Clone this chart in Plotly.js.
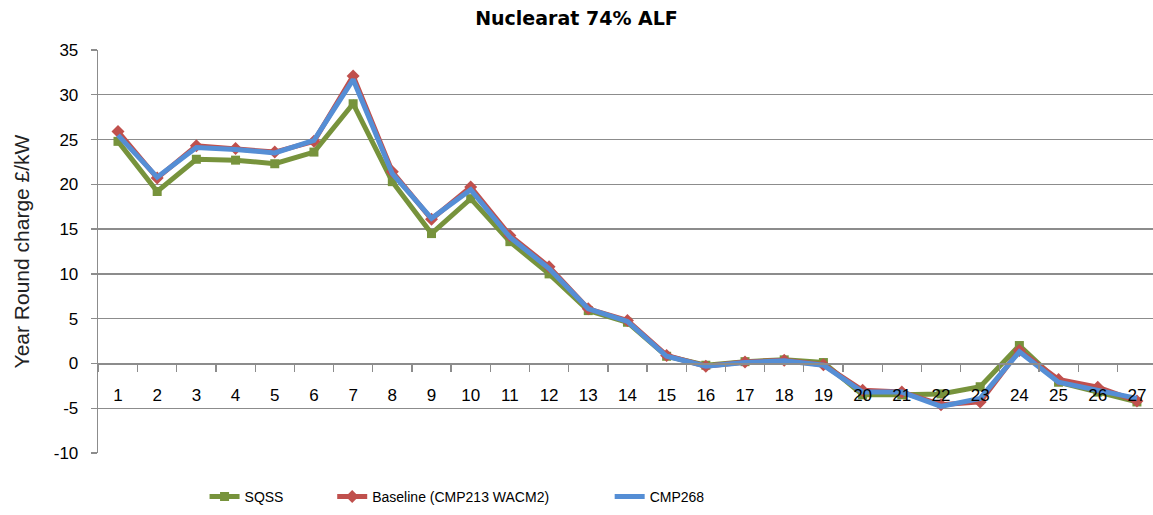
<!DOCTYPE html>
<html>
<head>
<meta charset="utf-8">
<script src="https://cdn.plot.ly/plotly-3.0.1.min.js"></script>
<style>html,body{margin:0;padding:0;background:#fff;}#chart{width:1153px;height:515px;}</style>
</head>
<body>
<div id="chart"></div>
<script>
const categories = [1,2,3,4,5,6,7,8,9,10,11,12,13,14,15,16,17,18,19,20,21,22,23,24,25,26,27];
const tickLabels = categories.map(String);
const sqss = [24.8,19.2,22.8,22.7,22.3,23.6,29.0,20.3,14.5,18.4,13.6,10.0,5.9,4.6,0.8,-0.2,0.2,0.4,0.1,-3.5,-3.5,-3.4,-2.6,2.0,-2.1,-3.2,-4.3];
const baseline = [25.9,20.7,24.3,24.0,23.6,24.8,32.1,21.4,16.1,19.7,14.3,10.8,6.1,4.8,0.9,-0.3,0.15,0.35,-0.15,-3.0,-3.2,-4.6,-4.3,1.45,-1.8,-2.65,-4.2];
const cmp268 = [25.5,20.8,24.1,23.9,23.5,24.9,31.7,21.2,16.2,19.4,14.1,10.6,6.1,4.7,0.8,-0.3,0.1,0.3,-0.2,-3.2,-3.2,-4.8,-3.9,1.3,-2.1,-3.0,-3.9];
const yTicks = [-10,-5,0,5,10,15,20,25,30,35];

const grey = '#8c8c8c';
const tickFont = {family: 'Liberation Sans, Arial, sans-serif', size: 17, color: '#000'};
const legFont = {family: 'Liberation Sans, Arial, sans-serif', size: 14, color: '#000'};

const traces = [
  {x: categories, y: sqss, name: 'SQSS', type: 'scatter', mode: 'lines+markers',
   line: {color: '#77933C', width: 5}, marker: {symbol: 'square', size: 9, color: '#77933C'}, legend: 'legend'},
  {x: categories, y: baseline, name: 'Baseline (CMP213 WACM2)', type: 'scatter', mode: 'lines+markers',
   line: {color: '#C0504D', width: 5}, marker: {symbol: 'diamond', size: 10, color: '#C0504D'}, legend: 'legend2'},
  {x: categories, y: cmp268, name: 'CMP268', type: 'scatter', mode: 'lines',
   line: {color: '#558ED5', width: 5}, legend: 'legend3'}
];

function leg(x) {
  return {orientation: 'h', x: x, xanchor: 'left', y: -0.109, yanchor: 'middle', font: legFont,
          bgcolor: 'rgba(0,0,0,0)', borderwidth: 0};
}

const layout = {
  width: 1153, height: 515,
  margin: {l: 98, r: 0, t: 50, b: 62},
  paper_bgcolor: '#fff', plot_bgcolor: '#fff',
  title: {text: 'Nuclearat 74% ALF', font: {family: 'DejaVu Sans, Verdana, sans-serif', size: 19, color: '#000', weight: 'bold'},
          x: 0.5, xref: 'container', xanchor: 'center', y: 1 - 18/515, yref: 'container', yanchor: 'middle'},
  xaxis: {
    range: [0.49, 27.41], tickmode: 'array', tickvals: categories, ticktext: tickLabels,
    showgrid: false, zeroline: false, showline: true, linecolor: grey, linewidth: 1.3,
    anchor: 'free', position: 10/45, ticks: '', tickfont: tickFont, ticklabelstandoff: 16,
    minor: {tick0: 0.5, dtick: 1, ticks: 'outside', ticklen: 7, tickcolor: grey, tickwidth: 1.3, showgrid: false},
    fixedrange: true
  },
  yaxis: {
    range: [-10, 35], tickmode: 'array', tickvals: yTicks, ticktext: yTicks.map(String),
    showgrid: true, gridcolor: grey, gridwidth: 1.3, zeroline: false,
    showline: true, linecolor: grey, linewidth: 1.3, ticks: 'outside', ticklen: 6, tickcolor: grey, tickwidth: 1.3,
    tickfont: tickFont, ticklabelstandoff: 9,
    title: {text: 'Year Round charge £/kW', font: {family: 'Liberation Sans, Arial, sans-serif', size: 21, color: '#222'}, standoff: 18},
    automargin: false, fixedrange: true
  },
  showlegend: true,
  legend: leg(0.101),
  legend2: leg(0.222),
  legend3: leg(0.485)
};

Plotly.newPlot('chart', traces, layout, {displayModeBar: false, staticPlot: true});
</script>
</body>
</html>
